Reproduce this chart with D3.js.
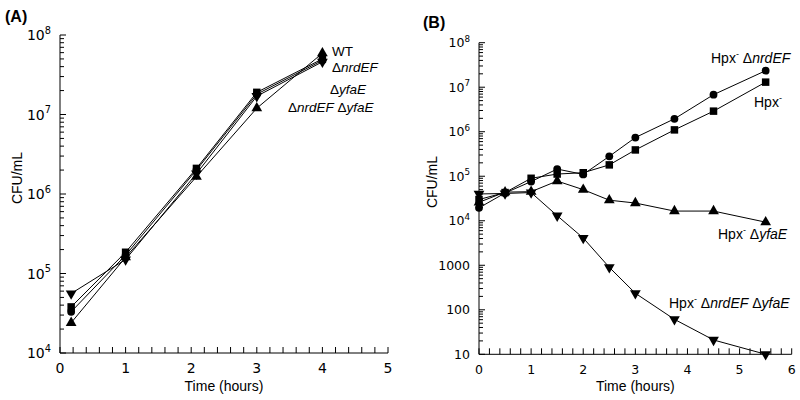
<!DOCTYPE html>
<html><head><meta charset="utf-8">
<script src="https://cdn.jsdelivr.net/npm/d3@7"></script>
<style>body{margin:0;background:#fff}svg{display:block}</style>
</head><body><svg id="c" width="800" height="400"></svg>
<script>
// ---- Panel A data ----
const timesA = [0.17, 1, 2.08, 3, 4];
const wtA    = [3.8e4, 1.85e5, 2.1e6, 1.9e7, 5.0e7];   // square
const nrdA   = [3.3e4, 1.7e5, 2.0e6, 1.8e7, 4.8e7];    // circle
const yfaA   = [2.4e4, 1.6e5, 1.65e6, 1.2e7, 5.9e7];   // triangle up
const dblA   = [5.6e4, 1.5e5, 1.8e6, 1.7e7, 4.6e7];    // triangle down
const labelsA = ["WT", "ΔnrdEF", "ΔyfaE", "ΔnrdEF ΔyfaE"];
const xTicksA = [0, 1, 2, 3, 4, 5];
const yDecadesA = [4, 5, 6, 7, 8];

// ---- Panel B data ----
const timesB   = [0, 0.5, 1, 1.5, 2, 2.5, 3, 3.75, 4.5, 5.5];
const hpxB     = [3.0e4, 4.3e4, 9.0e4, 1.12e5, 1.2e5, 1.8e5, 3.9e5, 1.1e6, 2.9e6, 1.3e7];   // square
const hpxNrdB  = [1.95e4, 4.2e4, 7.6e4, 1.45e5, 1.1e5, 2.8e5, 7.4e5, 1.95e6, 6.8e6, 2.35e7]; // circle
const hpxYfaB  = [2.6e4, 4.4e4, 4.5e4, 7.8e4, 5.0e4, 2.9e4, 2.5e4, 1.65e4, 1.65e4, 9.3e3]; // tri up
const hpxDblB  = [4.0e4, 4.1e4, 4.3e4, 1.3e4, 4.1e3, 900, 235, 61, 21, 10];               // tri down
const labelsB = ["Hpx ΔnrdEF", "Hpx", "Hpx ΔyfaE", "Hpx ΔnrdEF ΔyfaE"];
const xTicksB = [0, 1, 2, 3, 4, 5, 6];
const yDecadesB = [1, 2, 3, 4, 5, 6, 7, 8];

const svg = d3.select("#c");
const tickFont = "DejaVu Sans, Verdana, sans-serif";
const labFont = "Liberation Sans, Arial, sans-serif";

const triDown = {draw(ctx, size){ const s=Math.sqrt(size/(Math.sqrt(3)/4)); const ht=s*Math.sqrt(3)/2;
  ctx.moveTo(-s/2,-ht/3); ctx.lineTo(s/2,-ht/3); ctx.lineTo(0,2*ht/3); ctx.closePath(); }};
const shapes = {
  square: d3.symbol(d3.symbolSquare, 56)(),
  circle: d3.symbol(d3.symbolCircle, 48)(),
  up: d3.symbol(d3.symbolTriangle, 50)(),
  down: d3.symbol(triDown, 50)()
};

// Build text parts: "Hpx" gets a superscript minus; words after Δ are italic.
function parts(name){
  const out = [];
  name.split(" ").forEach((w,i)=>{
    if (w==="Hpx"){ out.push({t:"Hpx"}); out.push({t:"-",sup:true}); }
    else {
      const sp = i>0 ? " " : "";
      if (w.startsWith("Δ")){ out.push({t:sp+"Δ"}); out.push({t:w.slice(1),i:true}); }
      else out.push({t:sp+w});
    }
  });
  return out;
}

function panel(o){
  const g = svg.append("g");
  const x = d3.scaleLinear().domain(o.xDomain).range(o.xRange);
  const y = d3.scaleLog().domain(o.yDomain).range(o.yRange);
  g.append("line").attr("x1",x.range()[0]).attr("x2",x.range()[1]).attr("y1",y.range()[0]).attr("y2",y.range()[0]).attr("stroke","#000");
  g.append("line").attr("x1",x.range()[0]).attr("x2",x.range()[0]).attr("y1",y.range()[0]).attr("y2",y.range()[1]).attr("stroke","#000");
  const xt = d3.range(0, Math.round(o.xDomain[1]/0.2)+1).map(i=>+(i*0.2).toFixed(2));
  g.selectAll(null).data(xt).join("line")
    .attr("x1",d=>x(d)).attr("x2",d=>x(d)).attr("y1",y.range()[0]).attr("y2",y.range()[0]-6).attr("stroke","#000");
  g.selectAll(null).data(o.xTicks).join("text")
    .attr("x",d=>x(d)).attr("y",y.range()[0]+20).attr("text-anchor","middle")
    .attr("font-family",tickFont).attr("font-size",o.tickSize).text(d=>d);
  const minor = [];
  for (let e=o.decades[0]; e<o.decades[o.decades.length-1]; e++) for (let m=2;m<=9;m++) minor.push(m*Math.pow(10,e));
  g.selectAll(null).data(minor).join("line")
    .attr("x1",x.range()[0]).attr("x2",x.range()[0]+4).attr("y1",d=>y(d)).attr("y2",d=>y(d)).attr("stroke","#000");
  g.selectAll(null).data(o.decades).join("line")
    .attr("x1",x.range()[0]).attr("x2",x.range()[0]+6).attr("y1",d=>y(Math.pow(10,d))).attr("y2",d=>y(Math.pow(10,d))).attr("stroke","#000");
  const yl = g.selectAll(null).data(o.decades).join("text")
    .attr("x",x.range()[0]-9).attr("y",d=>y(Math.pow(10,d))+o.tickSize*0.36).attr("text-anchor","end")
    .attr("font-family",tickFont).attr("font-size",o.tickSize);
  yl.each(function(d){
    const t = d3.select(this);
    if (o.plainBelow && d < 4) { t.text(String(Math.pow(10,d))); }
    else { t.append("tspan").text("10"); t.append("tspan").attr("dy",-o.tickSize*0.45).attr("font-size",o.tickSize*0.7).text(d); }
  });
  g.append("text").attr("x",(x.range()[0]+x.range()[1])/2).attr("y",391).attr("text-anchor","middle")
    .attr("font-family",labFont).attr("font-size",14).text("Time (hours)");
  g.append("text").attr("transform",`translate(${o.yTitleX},${o.yTitleY}) rotate(-90)`).attr("text-anchor","middle")
    .attr("font-family",labFont).attr("font-size",14).text("CFU/mL");
  g.append("text").attr("x",o.tag[0]).attr("y",o.tag[1]).attr("font-family",labFont).attr("font-weight","bold")
    .attr("font-size",16).text(o.tag[2]);
  const line = d3.line().x(d=>x(d[0])).y(d=>y(d[1]));
  o.series.forEach(s=>{
    const pts = o.times.map((t,i)=>[t,s.values[i]]);
    g.append("path").attr("d",line(pts)).attr("fill","none").attr("stroke","#000").attr("stroke-width",1);
    g.selectAll(null).data(pts).join("path").attr("d",shapes[s.shape])
      .attr("transform",d=>`translate(${x(d[0])},${y(d[1])})`).attr("fill","#000");
  });
  o.labels.forEach(l=>{
    const t = g.append("text").attr("x",l.x).attr("y",l.y).attr("font-family",labFont).attr("font-size",o.labSize)
      .attr("xml:space","preserve");
    let pending = 0;
    parts(l.name).forEach(p=>{
      const ts = t.append("tspan").text(p.t);
      if (p.i) ts.attr("font-style","italic");
      if (p.sup) { ts.attr("font-size",9).attr("dy",-6); pending = 6; }
      else if (pending) { ts.attr("dy",pending); pending = 0; }
    });
  });
}

panel({
  xDomain:[0,5], xRange:[60,388], yDomain:[1e4,1e8], yRange:[353,35],
  xTicks:xTicksA, decades:yDecadesA, tickSize:14, plainBelow:false, labSize:13.5,
  yTitleX:22, yTitleY:178, tag:[5,22,"(A)"], times:timesA,
  series:[{values:wtA,shape:"square"},{values:nrdA,shape:"circle"},{values:yfaA,shape:"up"},{values:dblA,shape:"down"}],
  labels:[
    {x:332,y:56,name:labelsA[0]},
    {x:332,y:72,name:labelsA[1]},
    {x:330,y:94,name:labelsA[2]},
    {x:288,y:112,name:labelsA[3]}
  ]
});
panel({
  xDomain:[0,6], xRange:[479,791.7], yDomain:[10,1e8], yRange:[354.3,42.7],
  xTicks:xTicksB, decades:yDecadesB, tickSize:12.5, plainBelow:true, labSize:14,
  yTitleX:437, yTitleY:182, tag:[423,28,"(B)"], times:timesB,
  series:[{values:hpxB,shape:"square"},{values:hpxNrdB,shape:"circle"},{values:hpxYfaB,shape:"up"},{values:hpxDblB,shape:"down"}],
  labels:[
    {x:711,y:63,name:labelsB[0]},
    {x:754,y:107,name:labelsB[1]},
    {x:718,y:239,name:labelsB[2]},
    {x:669,y:308,name:labelsB[3]}
  ]
});
</script></body></html>
